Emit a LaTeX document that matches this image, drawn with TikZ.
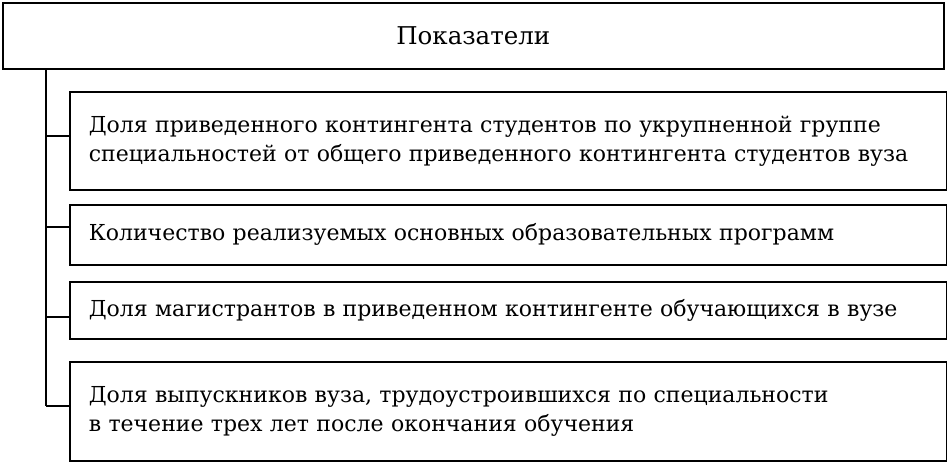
\documentclass[tikz,border=0pt]{standalone}
\usepackage{fontspec}
\setmainfont{DejaVu Serif}
\tikzset{
  box/.style={draw=black, line width=1.6pt, rectangle, anchor=north west, inner xsep=19pt, inner ysep=0pt},
  item/.style={box, minimum width=877pt, text width=839pt, align=left, font=\fontsize{22}{29}\selectfont},
  link/.style={-, line width=1.6pt, draw=black}
}
\begin{document}
\begin{tikzpicture}[x=1pt, y=-1pt]
\useasboundingbox (0,0) rectangle (947,461);
\node[box, minimum width=941pt, minimum height=66pt, align=center, font=\fontsize{24.5}{29}\selectfont] (top) at (2,2) {Показатели};
\node[item, minimum height=98pt] (b1) at (69,91) {Доля приведенного контингента студентов по укрупненной группе\\специальностей от общего приведенного контингента студентов вуза};
\node[item, minimum height=60pt] (b2) at (69,204) {Количество реализуемых основных образовательных программ};
\node[item, minimum height=57pt] (b3) at (69,281) {Доля магистрантов в приведенном контингенте обучающихся в вузе};
\node[item, minimum height=99pt] (b4) at (69,361) {Доля выпускников вуза, трудоустроившихся по специальности\\в течение трех лет после окончания обучения};
\coordinate (s0) at (46,68);
\coordinate (k1) at (46,136);
\coordinate (k2) at (46,227);
\coordinate (k3) at (46,317);
\coordinate (k4) at (46,406);
\path [link] (s0) edge (k4);
\path [link] (k1) edge (k1 -| b1.west);
\path [link] (k2) edge (k2 -| b2.west);
\path [link] (k3) edge (k3 -| b3.west);
\path [link] (k4) edge (k4 -| b4.west);
\end{tikzpicture}
\end{document}
